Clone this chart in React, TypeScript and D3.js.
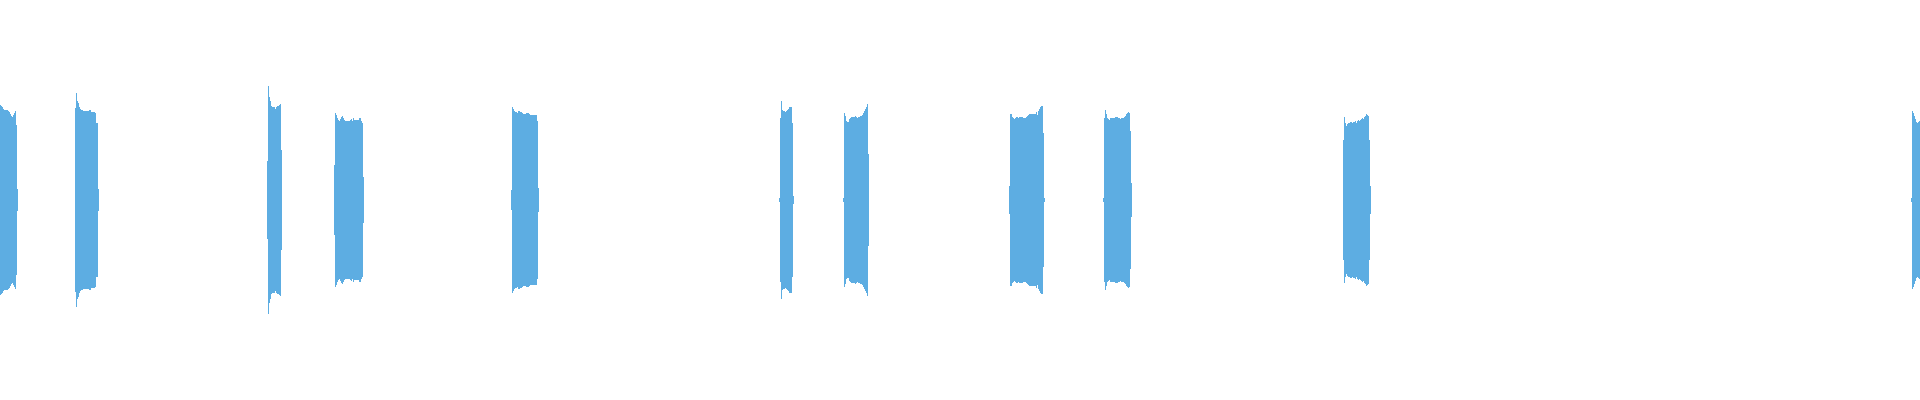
import { useEffect, useRef } from "react";
import { scaleLinear, select } from "d3";

// where each burst begins (sample column index)
const blockStarts = [0, 75, 267, 334, 511, 779, 843, 1009, 1103, 1343, 1911];

// peak amplitude per column of each burst (full scale = 1)
const burst1 = [0.475, 0.47, 0.465, 0.455, 0.45, 0.45, 0.45, 0.45, 0.445, 0.44, 0.43, 0.42, 0.415, 0.425, 0.435, 0.445, 0.375, 0.055];
const burst2 = [0.46, 0.535, 0.495, 0.485, 0.465, 0.455, 0.45, 0.45, 0.445, 0.445, 0.445, 0.445, 0.445, 0.445, 0.45, 0.45, 0.44, 0.44, 0.44, 0.44, 0.435, 0.385, 0.385, 0.055];
const burst3 = [0.195, 0.57, 0.515, 0.495, 0.47, 0.465, 0.465, 0.465, 0.455, 0.465, 0.47, 0.47, 0.475, 0.48, 0.25];
const burst4 = [0.175, 0.435, 0.425, 0.41, 0.4, 0.395, 0.405, 0.415, 0.42, 0.41, 0.4, 0.395, 0.395, 0.395, 0.395, 0.395, 0.4, 0.405, 0.395, 0.41, 0.4, 0.4, 0.4, 0.4, 0.4, 0.41, 0.41, 0.395, 0.385, 0.115];
const burst5 = [0.05, 0.465, 0.455, 0.445, 0.44, 0.44, 0.435, 0.445, 0.445, 0.44, 0.44, 0.435, 0.43, 0.43, 0.43, 0.435, 0.435, 0.435, 0.43, 0.425, 0.425, 0.425, 0.425, 0.425, 0.425, 0.425, 0.395, 0.06];
const burst6 = [0.01, 0.41, 0.495, 0.45, 0.445, 0.445, 0.44, 0.445, 0.45, 0.455, 0.465, 0.465, 0.465, 0.385, 0.02];
const burst7 = [0.01, 0.435, 0.42, 0.395, 0.39, 0.39, 0.405, 0.41, 0.415, 0.415, 0.415, 0.415, 0.42, 0.415, 0.41, 0.415, 0.415, 0.42, 0.42, 0.425, 0.435, 0.445, 0.455, 0.465, 0.48, 0.23];
const burst8 = [0.07, 0.43, 0.43, 0.415, 0.41, 0.405, 0.41, 0.415, 0.415, 0.41, 0.415, 0.415, 0.415, 0.415, 0.41, 0.41, 0.41, 0.415, 0.42, 0.425, 0.43, 0.43, 0.43, 0.43, 0.43, 0.43, 0.43, 0.44, 0.425, 0.445, 0.455, 0.465, 0.47, 0.47, 0.335, 0.01];
const burst9 = [0.01, 0.41, 0.45, 0.43, 0.41, 0.405, 0.4, 0.41, 0.41, 0.41, 0.41, 0.41, 0.415, 0.415, 0.415, 0.41, 0.41, 0.405, 0.41, 0.41, 0.41, 0.415, 0.42, 0.43, 0.435, 0.44, 0.435, 0.345, 0.085];
const burst10 = [0.3, 0.415, 0.385, 0.37, 0.38, 0.385, 0.385, 0.39, 0.39, 0.385, 0.39, 0.39, 0.395, 0.385, 0.395, 0.4, 0.395, 0.4, 0.405, 0.41, 0.405, 0.415, 0.42, 0.43, 0.425, 0.42, 0.3, 0.07];
const burst11 = [0.01, 0.445, 0.435, 0.42, 0.405, 0.39, 0.385, 0.39, 0.395];

const bursts = [burst1, burst2, burst3, burst4, burst5, burst6, burst7, burst8, burst9, burst10, burst11];

const drawWave = (ref: SVGSVGElement, size = { w: 1920, h: 400 }) => {
  const svg = select(ref);
  svg.selectAll("*").remove();

  const x = scaleLinear().domain([0, 1920]).range([0, size.w]);
  const y = scaleLinear().domain([-1, 1]).range([size.h, 0]);

  const cols = bursts.flatMap((b, k) =>
    b.map((amp, i) => ({ idx: blockStarts[k] + i, amp }))
  );

  svg
    .append("g")
    .attr("fill", "#5dade2")
    .attr("shape-rendering", "crispEdges")
    .selectAll("rect")
    .data(cols)
    .join("rect")
    .attr("x", (d) => x(d.idx))
    .attr("width", (d) => x(d.idx + 1) - x(d.idx))
    .attr("y", (d) => y(d.amp))
    .attr("height", (d) => y(-d.amp) - y(d.amp));
};

export default function App() {
  const ref = useRef<SVGSVGElement>(null);

  useEffect(() => {
    if (ref.current) drawWave(ref.current);
  }, []);

  return (
    <svg
      ref={ref}
      width={1920}
      height={400}
      style={{ position: "absolute", left: 0, top: 0, background: "#fff" }}
    />
  );
}
